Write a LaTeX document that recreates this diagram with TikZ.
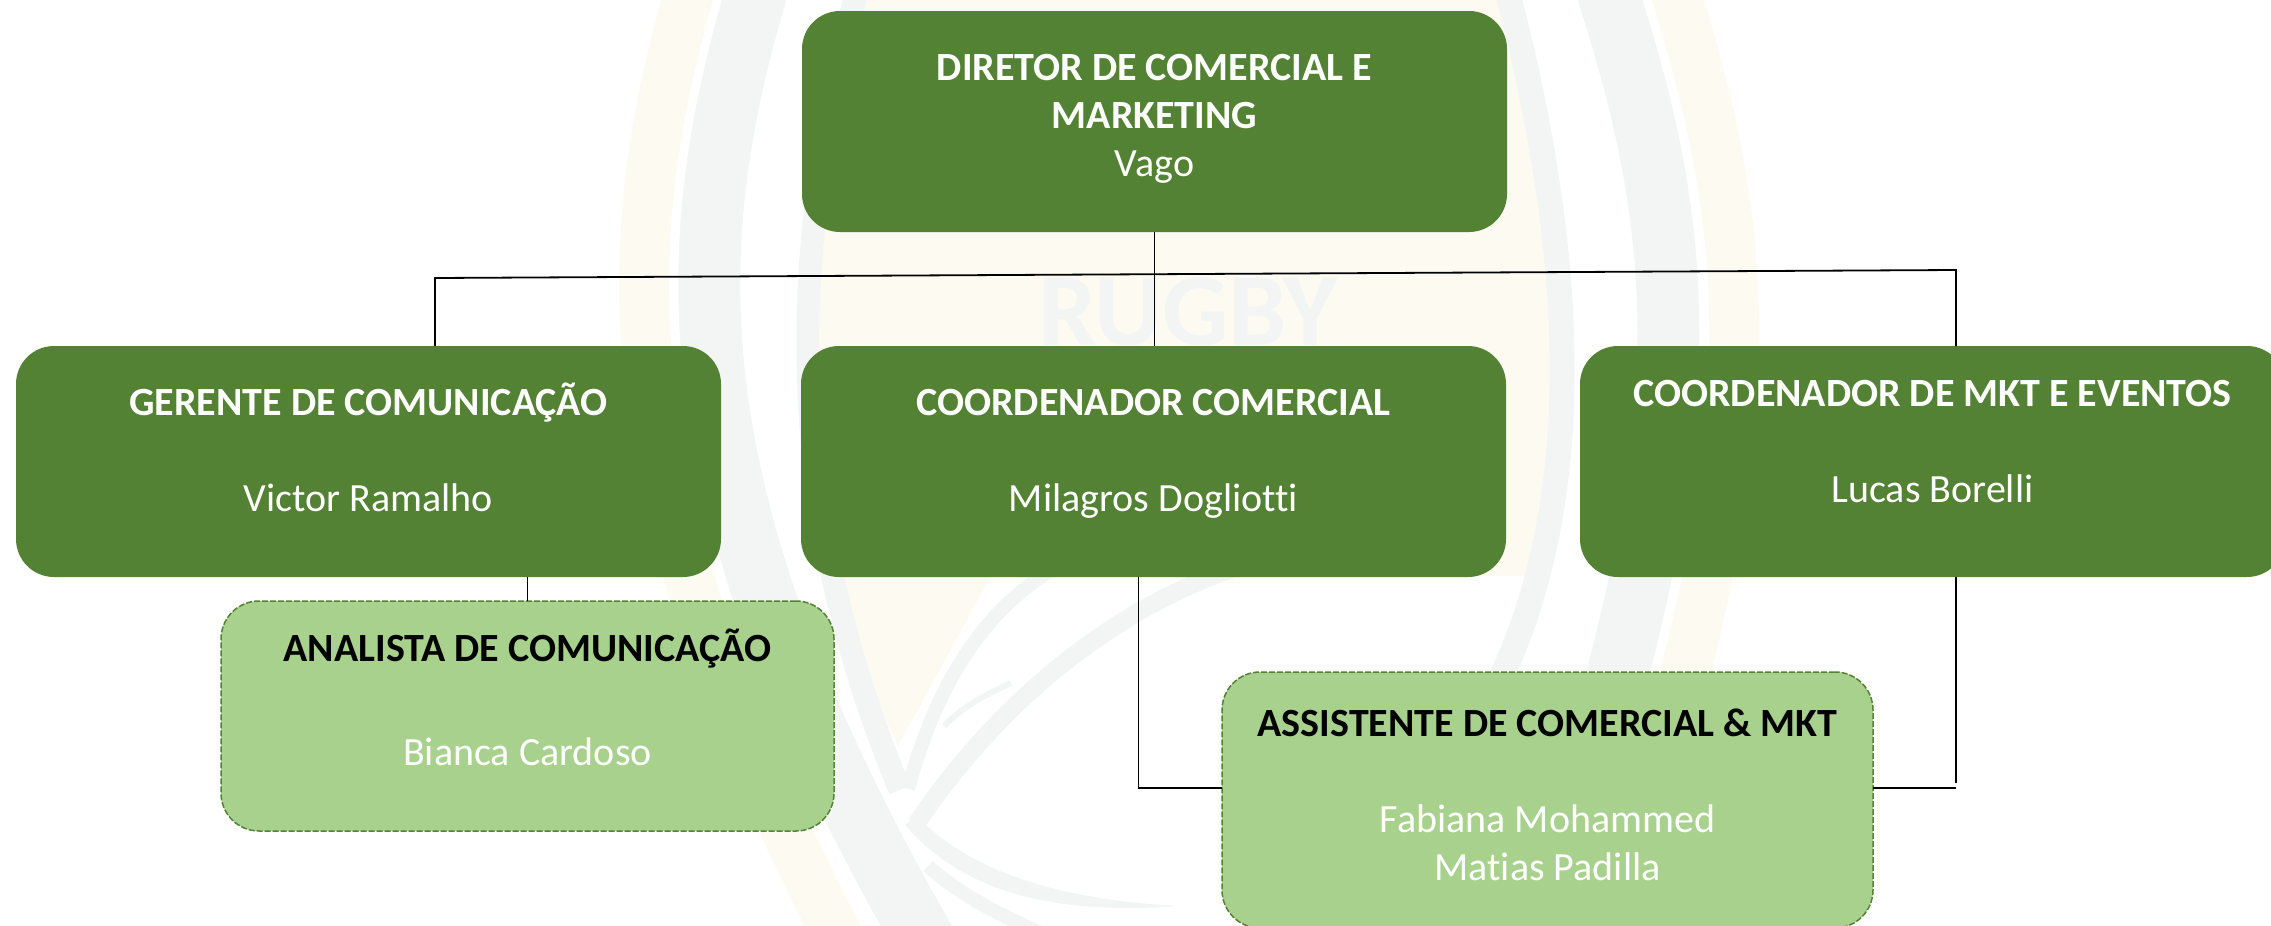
\documentclass[tikz,border=0pt]{standalone}
\usepackage{fontspec}
\setmainfont[Ligatures=NoCommon]{Carlito}
\usepackage{xcolor}
\usetikzlibrary{positioning}

\definecolor{verdeescuro}{HTML}{548235}
\definecolor{verdeclaro}{HTML}{A9D18E}
\definecolor{marcacinza}{HTML}{F3F5F5}
\definecolor{marcacreme}{HTML}{FDFAF2}

\begin{document}
\begin{tikzpicture}[
    x=1pt, y=1pt,
    chefe/.style={rectangle, rounded corners=38pt, fill=verdeescuro, text=white, minimum width=705pt, minimum height=231pt, align=center, outer sep=0pt, inner sep=0pt, font=\fontsize{40}{48}\selectfont},
    apoio/.style={rectangle, rounded corners=38pt, draw=verdeescuro, dash pattern=on 6pt off 2pt, line width=1.5pt, fill=verdeclaro, text=white, minimum height=230pt, align=center, outer sep=0pt, inner sep=0pt, font=\fontsize{40}{48}\selectfont},
    linha/.style={black, line width=1.8pt},
    bandacinza/.style={marcacinza},
    bandacreme/.style={marcacreme}
]
\clip (0,0) rectangle (2271,-926);

% Watermark
\fill[marcacreme] (857,10) .. controls (790,-250) and (780,-500) .. (898,-746) -- (991,-576) -- (1540,-576) .. controls (1580,-500) and (1575,-250) .. (1507,10) -- cycle;
\draw[bandacreme, line width=50pt] (690,10) .. controls (615,-250) and (610,-500) .. (845,-950);
\draw[bandacreme, line width=50pt] (1675,10) .. controls (1755,-250) and (1775,-450) .. (1600,-950);
\draw[bandacinza, line width=62pt] (757,10) .. controls (680,-250) and (670,-500) .. (930,-950);
\draw[bandacinza, line width=62pt] (1607,10) .. controls (1690,-250) and (1710,-450) .. (1530,-950);
\draw[bandacinza, line width=23pt] (857,10) .. controls (790,-250) and (780,-500) .. (900,-790);
\draw[bandacinza, line width=25pt] (1507,10) .. controls (1575,-250) and (1590,-500) .. (1495,-690);
\draw[bandacinza, line width=14pt] (1060,-565) .. controls (980,-610) and (935,-690) .. (908,-789);
\draw[bandacinza, line width=18pt] (1260,-560) .. controls (1120,-600) and (1000,-700) .. (916,-824);
\draw[bandacinza, line width=6pt] (944,-726) .. controls (965,-705) and (985,-695) .. (1011,-683);
\fill[marcacinza] (916,-815) .. controls (970,-872) and (1060,-900) .. (1180,-906) .. controls (1060,-915) and (965,-895) .. (905,-825) -- cycle;
\draw[bandacinza, line width=14pt] (928,-866) .. controls (960,-895) and (1000,-915) .. (1045,-935);
\node[text=marcacinza, font=\fontsize{104}{104}\selectfont\bfseries] (rugby) at (1188,-312) {RUGBY};

% Main boxes
\node[chefe, minimum height=221pt] (diretor) at (1154.5,-121.5) {\textbf{DIRETOR DE COMERCIAL E}\\ \textbf{MARKETING}\\ Vago\\[-35pt]};
\node[chefe, below=114pt of diretor, xshift=-1pt] (coordcom) {\textbf{COORDENADOR COMERCIAL}\\ \\ Milagros Dogliotti\\[-26pt]};
\node[chefe, left=80pt of coordcom] (gerente) {\textbf{GERENTE DE COMUNICAÇÃO}\\ \\ Victor Ramalho\\[-20pt]};
\node[chefe, right=74pt of coordcom] (coordmkt) {\textbf{COORDENADOR DE MKT E EVENTOS}\\ \\ Lucas Borelli\\[-8pt]};

% Support boxes
\node[apoio, minimum width=613pt, below=24pt of gerente, xshift=159pt] (analista) {\textcolor{black}{\textbf{ANALISTA DE COMUNICAÇÃO}}\\[56pt] Bianca Cardoso\\[-11pt]};
\node[apoio, minimum width=651pt, minimum height=256pt] (assistente) at (1547.5,-800) {\textcolor{black}{\textbf{ASSISTENTE DE COMERCIAL \& MKT}}\\ \\ Fabiana Mohammed\\ Matias Padilla\\[-38pt]};

% Connectors
\coordinate (busE) at (435,-278);
\coordinate (busD) at (1956,-270);
\coordinate (cantoE) at (1138.5,-788);
\coordinate (cantoD) at (1956,-788);
\coordinate (fimD) at (1956,-783);
\draw[linha] (diretor.south) -- (diretor.south |- coordcom.north);
\draw[linha] (busE |- gerente.north) -- (busE) -- (busD) -- (busD |- coordmkt.north);
\draw[linha] (gerente.south -| analista.north) -- (analista.north);
\draw[linha] (cantoE |- coordcom.south) -- (cantoE) -- (cantoE -| assistente.west);
\draw[linha] (fimD |- coordmkt.south) -- (fimD);
\draw[linha] (cantoD -| assistente.east) -- (cantoD);

\end{tikzpicture}
\end{document}
